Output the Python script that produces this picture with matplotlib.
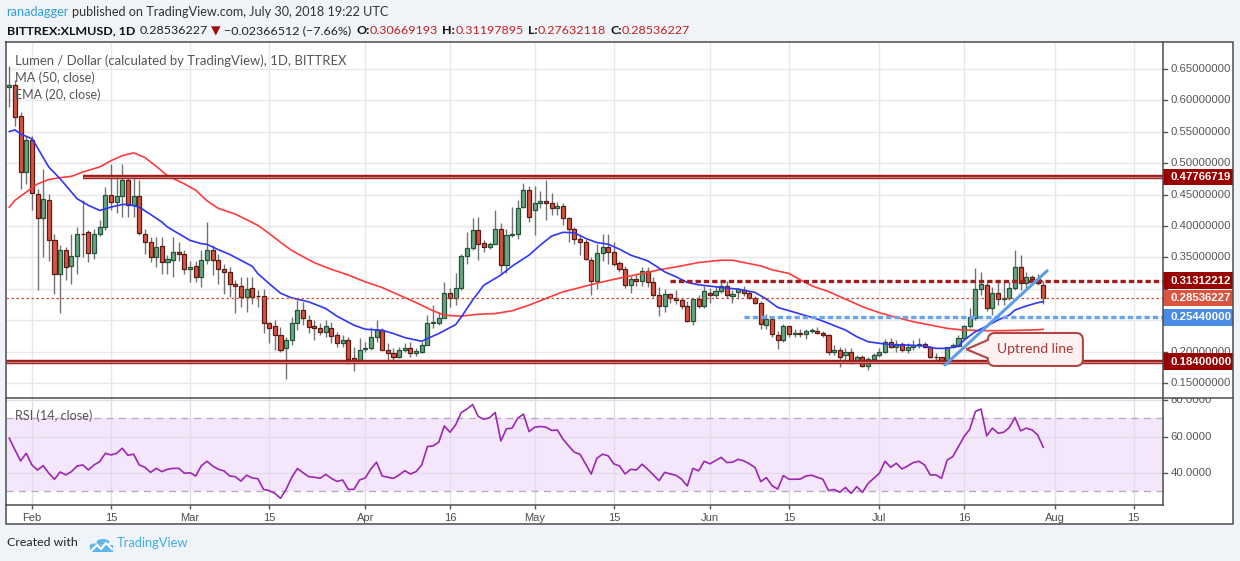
import numpy as np
import pandas as pd
import matplotlib
matplotlib.use('Agg')
import matplotlib.pyplot as plt
from matplotlib.patches import Rectangle, PathPatch, Circle
from matplotlib.lines import Line2D
from matplotlib.path import Path
import matplotlib.transforms as mtransforms

# ---- data ----
start = pd.Timestamp('2018-01-28')

opens = [0.622, 0.625, 0.575, 0.486, 0.537, 0.451, 0.412, 0.442, 0.377, 0.324,
         0.361, 0.336, 0.353, 0.388, 0.390, 0.357, 0.387, 0.399, 0.449, 0.438,
         0.447, 0.473, 0.434, 0.447, 0.388, 0.374, 0.350, 0.368, 0.342, 0.346,
         0.358, 0.356, 0.331, 0.336, 0.318, 0.346, 0.362, 0.346, 0.332, 0.326,
         0.307, 0.305, 0.287, 0.302, 0.289, 0.289, 0.245, 0.240, 0.226, 0.205,
         0.219, 0.246, 0.267, 0.251, 0.240, 0.237, 0.231, 0.238, 0.226, 0.214,
         0.219, 0.189, 0.187, 0.204, 0.205, 0.224, 0.234, 0.203, 0.197, 0.192,
         0.202, 0.206, 0.197, 0.200, 0.211, 0.245, 0.246, 0.254, 0.294, 0.285,
         0.301, 0.353, 0.365, 0.394, 0.373, 0.367, 0.372, 0.395, 0.338, 0.386,
         0.387, 0.431, 0.457, 0.426, 0.437, 0.440, 0.436, 0.428, 0.432, 0.412,
         0.395, 0.380, 0.375, 0.346, 0.313, 0.357, 0.366, 0.359, 0.341, 0.331,
         0.306, 0.315, 0.313, 0.329, 0.311, 0.290, 0.273, 0.291, 0.286, 0.282,
         0.272, 0.248, 0.284, 0.273, 0.294, 0.290, 0.297, 0.304, 0.288, 0.295,
         0.298, 0.293, 0.286, 0.278, 0.243, 0.252, 0.227, 0.219, 0.240, 0.228,
         0.230, 0.228, 0.233, 0.233, 0.230, 0.227, 0.200, 0.202, 0.194, 0.199,
         0.185, 0.191, 0.177, 0.188, 0.194, 0.199, 0.216, 0.207, 0.212, 0.203,
         0.207, 0.210, 0.212, 0.208, 0.192, 0.191, 0.184, 0.207, 0.209, 0.221,
         0.240, 0.253, 0.299, 0.306, 0.269, 0.293, 0.284, 0.286, 0.301, 0.334,
         0.309, 0.318, 0.316, 0.30669193]
highs = [0.655, 0.632, 0.581, 0.544, 0.544, 0.459, 0.491, 0.451, 0.388, 0.369,
         0.367, 0.388, 0.398, 0.441, 0.393, 0.396, 0.409, 0.462, 0.499, 0.478,
         0.499, 0.481, 0.478, 0.473, 0.396, 0.382, 0.382, 0.382, 0.354, 0.382,
         0.374, 0.361, 0.345, 0.345, 0.361, 0.406, 0.369, 0.356, 0.340, 0.335,
         0.314, 0.319, 0.319, 0.319, 0.298, 0.300, 0.247, 0.250, 0.239, 0.223,
         0.255, 0.282, 0.279, 0.258, 0.250, 0.245, 0.250, 0.247, 0.231, 0.226,
         0.223, 0.207, 0.221, 0.215, 0.239, 0.251, 0.237, 0.213, 0.205, 0.207,
         0.213, 0.215, 0.205, 0.215, 0.258, 0.274, 0.263, 0.311, 0.301, 0.325,
         0.356, 0.391, 0.412, 0.414, 0.378, 0.375, 0.426, 0.404, 0.395, 0.431,
         0.442, 0.468, 0.463, 0.463, 0.455, 0.473, 0.452, 0.439, 0.436, 0.415,
         0.399, 0.386, 0.380, 0.350, 0.372, 0.387, 0.387, 0.375, 0.345, 0.336,
         0.321, 0.323, 0.335, 0.334, 0.318, 0.303, 0.300, 0.294, 0.298, 0.286,
         0.281, 0.286, 0.290, 0.305, 0.302, 0.305, 0.312, 0.313, 0.298, 0.301,
         0.305, 0.297, 0.289, 0.281, 0.260, 0.257, 0.233, 0.244, 0.241, 0.236,
         0.236, 0.236, 0.237, 0.239, 0.233, 0.228, 0.210, 0.207, 0.205, 0.205,
         0.195, 0.195, 0.192, 0.197, 0.205, 0.220, 0.222, 0.218, 0.216, 0.213,
         0.218, 0.221, 0.216, 0.209, 0.197, 0.192, 0.208, 0.213, 0.226, 0.242,
         0.269, 0.333, 0.327, 0.311, 0.303, 0.311, 0.311, 0.311, 0.362, 0.354,
         0.327, 0.322, 0.323, 0.31197895]
lows = [0.589, 0.560, 0.459, 0.467, 0.425, 0.298, 0.351, 0.345, 0.292, 0.261,
        0.314, 0.308, 0.324, 0.351, 0.343, 0.348, 0.384, 0.393, 0.425, 0.420,
        0.414, 0.414, 0.414, 0.385, 0.356, 0.342, 0.335, 0.324, 0.324, 0.319,
        0.345, 0.324, 0.311, 0.311, 0.303, 0.340, 0.322, 0.308, 0.292, 0.287,
        0.261, 0.271, 0.263, 0.276, 0.271, 0.229, 0.213, 0.202, 0.200, 0.157,
        0.210, 0.234, 0.242, 0.229, 0.218, 0.226, 0.223, 0.214, 0.207, 0.207,
        0.181, 0.169, 0.184, 0.200, 0.203, 0.215, 0.203, 0.186, 0.186, 0.189,
        0.200, 0.192, 0.193, 0.197, 0.210, 0.237, 0.242, 0.253, 0.271, 0.274,
        0.298, 0.340, 0.361, 0.346, 0.359, 0.364, 0.371, 0.325, 0.325, 0.383,
        0.380, 0.428, 0.407, 0.386, 0.428, 0.410, 0.418, 0.418, 0.402, 0.375,
        0.372, 0.354, 0.346, 0.290, 0.300, 0.345, 0.339, 0.336, 0.326, 0.301,
        0.294, 0.305, 0.305, 0.303, 0.287, 0.257, 0.263, 0.278, 0.276, 0.268,
        0.247, 0.243, 0.270, 0.269, 0.278, 0.286, 0.293, 0.286, 0.278, 0.286,
        0.289, 0.283, 0.276, 0.236, 0.236, 0.223, 0.204, 0.215, 0.223, 0.223,
        0.223, 0.220, 0.230, 0.228, 0.223, 0.194, 0.194, 0.175, 0.187, 0.181,
        0.182, 0.176, 0.171, 0.1865, 0.192, 0.197, 0.205, 0.200, 0.200, 0.198,
        0.203, 0.205, 0.205, 0.189, 0.184, 0.180, 0.180, 0.205, 0.207, 0.218,
        0.237, 0.251, 0.290, 0.264, 0.258, 0.274, 0.274, 0.282, 0.298, 0.298,
        0.301, 0.311, 0.306, 0.27632118]
closes = [0.625, 0.574, 0.486, 0.537, 0.453, 0.412, 0.443, 0.377, 0.324, 0.361,
          0.335, 0.353, 0.388, 0.387, 0.357, 0.387, 0.399, 0.449, 0.438, 0.447,
          0.473, 0.434, 0.447, 0.389, 0.374, 0.350, 0.367, 0.342, 0.348, 0.358,
          0.356, 0.331, 0.335, 0.318, 0.346, 0.362, 0.346, 0.332, 0.326, 0.308,
          0.305, 0.287, 0.300, 0.287, 0.288, 0.245, 0.238, 0.226, 0.203, 0.219,
          0.246, 0.266, 0.253, 0.239, 0.238, 0.231, 0.240, 0.225, 0.214, 0.219,
          0.188, 0.187, 0.203, 0.205, 0.224, 0.234, 0.203, 0.197, 0.192, 0.202,
          0.206, 0.197, 0.201, 0.211, 0.245, 0.247, 0.254, 0.294, 0.285, 0.301,
          0.353, 0.365, 0.394, 0.372, 0.367, 0.372, 0.395, 0.338, 0.386, 0.387,
          0.428, 0.457, 0.414, 0.437, 0.440, 0.437, 0.428, 0.432, 0.412, 0.396,
          0.380, 0.374, 0.348, 0.313, 0.357, 0.366, 0.359, 0.339, 0.331, 0.306,
          0.315, 0.313, 0.329, 0.311, 0.290, 0.273, 0.292, 0.286, 0.282, 0.272,
          0.248, 0.284, 0.273, 0.297, 0.290, 0.297, 0.304, 0.290, 0.292, 0.299,
          0.293, 0.286, 0.278, 0.244, 0.252, 0.228, 0.219, 0.240, 0.228, 0.230,
          0.228, 0.233, 0.235, 0.230, 0.226, 0.199, 0.202, 0.192, 0.199, 0.185,
          0.191, 0.177, 0.188, 0.195, 0.199, 0.216, 0.207, 0.212, 0.203, 0.207,
          0.210, 0.212, 0.208, 0.191, 0.191, 0.184, 0.207, 0.210, 0.221, 0.240,
          0.255, 0.299, 0.307, 0.269, 0.293, 0.283, 0.286, 0.301, 0.334, 0.309,
          0.318, 0.316, 0.30903, 0.28536227]

# MA(50) and EMA(20) read at sample days (days after Jan 28)
ma_day = [0, 1, 3, 5, 7, 9, 11, 13, 16, 18, 20, 22, 24, 26, 28, 31, 33, 35, 37, 40,
          42, 44, 46, 48, 50, 51, 54, 57, 60, 63, 66, 69, 72, 75, 77, 80, 83, 86, 89, 92,
          95, 98, 101, 104, 108, 112, 115, 119, 122, 126, 128, 130, 133, 135, 138, 140, 142, 145, 148, 151,
          154, 157, 160, 163, 166, 169, 172, 175, 178, 181, 183]
ma50 = [0.430, 0.441, 0.454, 0.467, 0.474, 0.477, 0.479, 0.486, 0.494, 0.504,
        0.512, 0.5165, 0.509, 0.495, 0.480, 0.467, 0.457, 0.440, 0.428, 0.419,
        0.410, 0.401, 0.388, 0.374, 0.361, 0.356, 0.3415, 0.331, 0.322, 0.311,
        0.302, 0.290, 0.278, 0.265, 0.258, 0.2564, 0.2595, 0.2606, 0.265, 0.274,
        0.2846, 0.2952, 0.302, 0.309, 0.317, 0.3244, 0.3302, 0.3365, 0.3418, 0.3455,
        0.3455, 0.3418, 0.3365, 0.3302, 0.3244, 0.3143, 0.3048, 0.2955, 0.2835, 0.2715,
        0.2619, 0.2545, 0.2476, 0.2423, 0.237, 0.2343, 0.2333, 0.2333, 0.2338, 0.2343,
        0.2354]
ema_day = [0, 1, 2, 4, 5, 7, 9, 11, 12, 14, 16, 18, 20, 21, 23, 25, 27, 28, 30, 32,
           34, 35, 37, 39, 41, 43, 44, 46, 48, 50, 51, 53, 56, 58, 61, 63, 66, 68, 70, 73,
           74, 76, 79, 80, 82, 84, 87, 89, 92, 94, 96, 98, 100, 102, 104, 106, 108, 110, 113, 115,
           116, 118, 120, 122, 125, 127, 129, 132, 134, 136, 139, 141, 143, 145, 148, 150, 152, 155, 157, 159,
           162, 164, 166, 168, 169, 171, 173, 175, 177, 178, 180, 182, 183]
ema20 = [0.5504, 0.553, 0.5467, 0.5388, 0.5244, 0.4937, 0.4752, 0.454, 0.4434, 0.4328,
         0.4248, 0.4301, 0.4343, 0.4343, 0.4301, 0.4184, 0.4063, 0.3983, 0.3877, 0.3771,
         0.3718, 0.3707, 0.3623, 0.3548, 0.3453, 0.3358, 0.3241, 0.3082, 0.293, 0.2854,
         0.2835, 0.2792, 0.2686, 0.2564, 0.242, 0.2356, 0.234, 0.2287, 0.2223, 0.2164,
         0.2207, 0.2287, 0.243, 0.255, 0.2819, 0.3058, 0.3218, 0.3361, 0.3537, 0.3697,
         0.384, 0.3899, 0.3893, 0.3803, 0.3736, 0.371, 0.363, 0.3535, 0.3445, 0.333,
         0.327, 0.3191, 0.3101, 0.3064, 0.3032, 0.3011, 0.2995, 0.2942, 0.2836, 0.2704,
         0.2625, 0.2572, 0.2519, 0.245, 0.2343, 0.2237, 0.2157, 0.212, 0.2104, 0.2104,
         0.2088, 0.2051, 0.2051, 0.2088, 0.2184, 0.2317, 0.2407, 0.2503, 0.2582, 0.2662,
         0.2726, 0.2779, 0.2795]

rsi = [59.1, 52.7, 46.6, 50.8, 44.4, 41.6, 44.0, 39.8, 36.5, 40.5,
       38.9, 40.7, 43.8, 44.4, 41.6, 44.4, 46.2, 50.8, 49.9, 50.8,
       53.6, 49.7, 50.3, 44.4, 43.1, 40.3, 42.5, 40.7, 42.0, 42.5,
       42.5, 39.8, 40.1, 38.3, 44.0, 46.4, 43.8, 42.0, 41.1, 38.3,
       37.9, 35.5, 38.7, 37.2, 36.8, 30.9, 30.2, 28.7, 26.0, 30.9,
       37.6, 42.4, 40.1, 37.9, 37.6, 37.0, 39.2, 37.0, 35.3, 36.1,
       30.9, 30.9, 36.1, 37.2, 42.2, 45.9, 38.3, 37.6, 37.0, 38.9,
       41.2, 39.4, 40.7, 44.4, 54.5, 54.9, 56.9, 65.9, 62.4, 66.5,
       73.3, 75.2, 77.7, 71.1, 69.6, 70.4, 73.3, 57.6, 64.3, 64.7,
       70.2, 72.4, 62.8, 65.2, 65.6, 65.2, 63.4, 63.7, 58.6, 54.9,
       51.4, 50.3, 45.0, 39.4, 48.1, 50.3, 49.4, 45.0, 43.8, 39.4,
       42.0, 41.6, 44.8, 42.0, 38.9, 35.7, 40.3, 39.4, 38.7, 36.5,
       32.8, 42.5, 41.1, 46.4, 45.0, 46.8, 48.6, 45.7, 45.9, 47.5,
       46.6, 45.0, 42.9, 35.2, 37.4, 33.0, 31.1, 38.5, 36.5, 36.5,
       36.6, 38.3, 38.7, 37.6, 36.5, 30.2, 30.9, 29.3, 32.0, 28.7,
       32.4, 29.3, 34.2, 37.0, 39.8, 46.4, 43.1, 45.3, 42.2, 43.8,
       45.7, 46.4, 44.4, 38.9, 38.9, 37.0, 47.1, 49.0, 54.5, 60.1,
       64.1, 73.9, 75.2, 60.4, 64.7, 61.9, 62.4, 65.0, 70.6, 63.2,
       64.7, 63.7, 61.0, 54.2]

# drawn levels
resistance = 0.47766719
support = 0.184
level_313 = 0.31312212
level_254 = 0.2544
last_price = 0.28536227
res_from = '2018-02-10'
l313_from = '2018-05-25'
l254_from = '2018-06-07'
trend_day = [165.6, 183.7]
trend_price = [0.1786, 0.3288]

tick_dates = ['2018-02-01', '2018-02-15', '2018-03-01', '2018-03-15', '2018-04-01',
              '2018-04-16', '2018-05-01', '2018-05-15', '2018-06-01', '2018-06-15',
              '2018-07-01', '2018-07-16', '2018-08-01', '2018-08-15']
tick_labels = ['Feb', '15', 'Mar', '15', 'Apr', '16', 'May', '15', 'Jun', '15',
               'Jul', '16', 'Aug', '15']
price_ticks = [0.15, 0.20, 0.25, 0.30, 0.35, 0.40, 0.45, 0.50, 0.55, 0.60, 0.65]
rsi_ticks = [40, 60, 80]

# ---- layout in screenshot pixels ----
W, H = 1240, 561
L, R, RR = 6, 1163, 1233
PT, PB, RB, TB = 42, 398, 505, 524


def fx(px):
    return px / W


def fy(py):
    return 1 - py / H


def dnum(s):
    return (pd.Timestamp(s) - start).days


fig = plt.figure(figsize=(W / 100, H / 100), dpi=100, facecolor='#f0f3f7')
fig.add_artist(Rectangle((fx(L), fy(TB)), fx(RR) - fx(L), fy(PT) - fy(TB),
                         transform=fig.transFigure, facecolor='white', edgecolor='none', zorder=0))

ax = fig.add_axes([fx(L), fy(PB), fx(R) - fx(L), fy(PT) - fy(PB)])
rax = fig.add_axes([fx(L), fy(RB), fx(R) - fx(L), fy(PB) - fy(RB)], sharex=ax)
sax = fig.add_axes([fx(R), fy(PB), fx(RR) - fx(R), fy(PT) - fy(PB)])
srax = fig.add_axes([fx(R), fy(RB), fx(RR) - fx(R), fy(PB) - fy(RB)])

for a in (ax, rax, sax, srax):
    a.set_facecolor('none')
    for s in a.spines.values():
        s.set_visible(False)

days = np.arange(len(opens))
x0, x1 = -0.584, 204.2
ax.set_xlim(x0, x1)
ax.set_ylim(0.1261, 0.69299)
rax.set_ylim(22.3, 81.3)
sax.set_ylim(ax.get_ylim())
srax.set_ylim(rax.get_ylim())
sax.set_xlim(0, 70)
srax.set_xlim(0, 70)
sax.axis('off')
srax.axis('off')

tick_pos = [dnum(d) for d in tick_dates]
grid_c = '#e8e8ea'
ax.set_xticks(tick_pos)
ax.set_yticks(price_ticks)
ax.grid(True, color=grid_c, lw=1)
ax.set_axisbelow(True)
ax.tick_params(length=0, labelbottom=False, labelleft=False)

rax.set_yticks(rsi_ticks)
rax.grid(True, color='#e3dbe8', lw=1)
rax.set_axisbelow(True)
rax.tick_params(axis='y', length=0, labelleft=False)
rax.set_xticks(tick_pos)
rax.set_xticklabels(tick_labels)
rax.tick_params(axis='x', length=3, direction='out', color='#555555', width=1,
                labelsize=8, labelcolor='#4e4e4e', pad=3)
for t in rax.get_xticklabels():
    t.set_family('Liberation Sans')

# ---- candles ----
opens_a = np.array(opens)
closes_a = np.array(closes)
up = closes_a >= opens_a
body_lo = np.minimum(opens_a, closes_a)
body_h = np.maximum(np.abs(closes_a - opens_a), 0.0009)
ax.vlines(days, lows, highs, color='#737375', lw=1, zorder=2)
ax.bar(days[up], body_h[up], bottom=body_lo[up], width=0.72, color='#6ba583',
       edgecolor='#225437', lw=0.9, zorder=3)
ax.bar(days[~up], body_h[~up], bottom=body_lo[~up], width=0.72, color='#d75442',
       edgecolor='#5b1a13', lw=0.9, zorder=3)

# ---- indicators ----
ax.plot(ma_day, ma50, color='#ff3b3b', lw=1.2, zorder=4)
ax.plot(ema_day, ema20, color='#2f36f5', lw=1.2, zorder=4)

# ---- drawings ----
ax.axhline(last_price, color='#cf4a37', lw=0.9, ls=(0, (2, 2)), zorder=4)
for yv, xs in ((resistance, dnum(res_from)), (support, x0)):
    ax.plot([xs, x1], [yv, yv], color='#9c1c1c', lw=3.2, zorder=5, solid_capstyle='butt')
    ax.plot([xs, x1], [yv, yv], color='#cf7c7c', lw=0.9, zorder=5, solid_capstyle='butt')
ax.plot([dnum(l313_from), x1], [level_313] * 2, color='#a11d1d', lw=2.4,
        ls=(0, (1.6, 0.9)), zorder=5)
ax.plot([dnum(l254_from), x1], [level_254] * 2, color='#6aa5f0', lw=2.4,
        ls=(0, (1.6, 0.9)), zorder=5)
ax.plot(trend_day, trend_price, color='#5a9ee8', lw=2.2, zorder=6,
        solid_capstyle='round')

# ---- RSI pane ----
rax.axhspan(30, 70, color='#f4e7fc', zorder=0, lw=0)
for lv in (70, 30):
    rax.axhline(lv, color='#bba9c3', lw=1, ls=(0, (5, 4)), zorder=1)
rax.plot(days, rsi, color='#9c27b0', lw=1.2, zorder=3)

# ---- price scale ----
scale_font = 'Liberation Sans'
hh = 8.2 / 628
marked = [(resistance, '#990000'), (level_313, '#990000'),
          (last_price, '#d9553f'), (level_254, '#4a8be6'), (support, '#990000')]
for p in price_ticks:
    sax.plot([0, 3.5], [p, p], color='#555555', lw=1)
    # labels sitting under a marker box are hidden, as on the original
    if min(abs(p - m) for m, _ in marked) < hh * 1.2:
        continue
    sax.text(7.5, p, f'{p:.8f}', va='center', ha='left', fontsize=8.2,
             color='#555555', family=scale_font)
for p, col in marked:
    sax.add_patch(Rectangle((0, p - hh), 70, 2 * hh, facecolor=col, edgecolor='none',
                            zorder=5))
    sax.text(7.5, p, f'{p:.8f}', va='center', ha='left', fontsize=8.2, color='white',
             fontweight='bold', family=scale_font, zorder=6)
for v in rsi_ticks:
    srax.plot([0, 3.5], [v, v], color='#555555', lw=1)
    srax.text(7.5, v, f'{v:.4f}', va='center', ha='left', fontsize=8.2,
              color='#555555', family=scale_font, clip_on=True)

# ---- frame lines ----
fc = '#4d4d4d'
for xs, ys in (([L, RR, RR, L, L], [PT, PT, TB, TB, PT]),
               ([R, R], [PT, RB]),
               ([L, RR], [PB, PB]),
               ([L, R], [RB, RB])):
    fig.add_artist(Line2D([fx(v) for v in xs], [fy(v) for v in ys],
                          transform=fig.transFigure, color=fc, lw=1.1))

# ---- texts ----
tfam = ['Lato', 'DejaVu Sans']
renderer = fig.canvas.get_renderer()


def pieces(x, y, parts, size, target=None):
    def lay(sz):
        arts, cx = [], x
        for txt, col, wt, gap in parts:
            t = fig.text(fx(cx), fy(y), txt, fontsize=sz, color=col, fontweight=wt,
                         family=tfam, va='center', ha='left')
            cx += t.get_window_extent(renderer).width + gap * sz / size
            arts.append(t)
        return arts, cx - x
    arts, w = lay(size)
    if target:
        for a in arts:
            a.remove()
        lay(size * target / w)


pieces(6.5, 12, [('ranadagger', '#2e9fd8', 'normal', 3.5),
                 ('published on TradingView.com, July 30, 2018 19:22 UTC', '#333333', 'normal', 0)],
       10, target=382)
red = '#c0211f'
pieces(6.5, 31, [('BITTREX:XLMUSD, 1D', '#111111', 'bold', 5),
                 ('0.28536227', '#222222', 'normal', 4),
                 ('\u25bc', '#9b0e0e', 'normal', 4),
                 ('\u22120.02366512 (\u22127.66%)', '#222222', 'normal', 5),
                 ('O:', '#111111', 'bold', 0), ('0.30669193', red, 'normal', 5),
                 ('H:', '#111111', 'bold', 0), ('0.31197895', red, 'normal', 5),
                 ('L:', '#111111', 'bold', 0), ('0.27632118', red, 'normal', 5),
                 ('C:', '#111111', 'bold', 0), ('0.28536227', red, 'normal', 0)],
       10, target=682)

leg_c = '#555555'
pieces(15, 61, [('Lumen / Dollar (calculated by TradingView), 1D, BITTREX', leg_c, 'normal', 0)],
       10, target=330)
pieces(15, 78, [('MA (50, close)', leg_c, 'normal', 0)], 10, target=80)
pieces(15, 95, [('EMA (20, close)', leg_c, 'normal', 0)], 10, target=86)
pieces(15, 416, [('RSI (14, close)', leg_c, 'normal', 0)], 10, target=77)

pieces(6.5, 543, [('Created with', '#222222', 'normal', 0)], 10, target=71)
pieces(117, 543, [('TradingView', '#3eaee2', 'normal', 0)], 10, target=72)

# TradingView cloud logo (rough)
logo_c = '#5cb6e6'
for cx, cy, r in ((95, 546, 5.5), (103, 542, 6.5), (109, 547, 4.5)):
    fig.add_artist(Circle((fx(cx), fy(cy)), r / W, transform=fig.transFigure,
                          facecolor=logo_c, edgecolor='none'))
fig.add_artist(Rectangle((fx(90), fy(552)), fx(113) - fx(90), fy(545) - fy(552),
                         transform=fig.transFigure, facecolor=logo_c, edgecolor='none'))
fig.add_artist(Line2D([fx(v) for v in (91, 97, 101, 106, 112)],
                      [fy(v) for v in (551, 545, 549, 543, 549)],
                      transform=fig.transFigure, color='white', lw=1.6))

# ---- "Uptrend line" callout ----
tip = (169.4, 0.2037)
tx, ty = ax.transData.transform(tip)
bx0, bx1 = tx + 21.5, tx + 116.5
by0, by1 = ty - 16.7, ty + 16.3
rr = 7
verts = [(bx0, ty + 9.3), (bx0, by1 - rr), (bx0, by1), (bx0 + rr, by1),
         (bx1 - rr, by1), (bx1, by1), (bx1, by1 - rr),
         (bx1, by0 + rr), (bx1, by0), (bx1 - rr, by0),
         (bx0 + rr, by0), (bx0, by0), (bx0, by0 + rr),
         (bx0, ty - 9.0), (tx, ty), (bx0, ty + 9.3)]
codes = [Path.MOVETO, Path.LINETO, Path.CURVE3, Path.CURVE3,
         Path.LINETO, Path.CURVE3, Path.CURVE3,
         Path.LINETO, Path.CURVE3, Path.CURVE3,
         Path.LINETO, Path.CURVE3, Path.CURVE3,
         Path.LINETO, Path.LINETO, Path.CLOSEPOLY]
bubble = PathPatch(Path(verts, codes), transform=mtransforms.IdentityTransform(),
                   facecolor='#fdf1f1', edgecolor='#b04545', lw=1.5, zorder=7)
fig.add_artist(bubble)
fig.text((bx0 + bx1) / 2 / W, (by0 + by1) / 2 / H, 'Uptrend line', ha='center',
         va='center', fontsize=10, color='#a83434', family=tfam, zorder=8)

fig.savefig('out.png', dpi=100, facecolor=fig.get_facecolor())
